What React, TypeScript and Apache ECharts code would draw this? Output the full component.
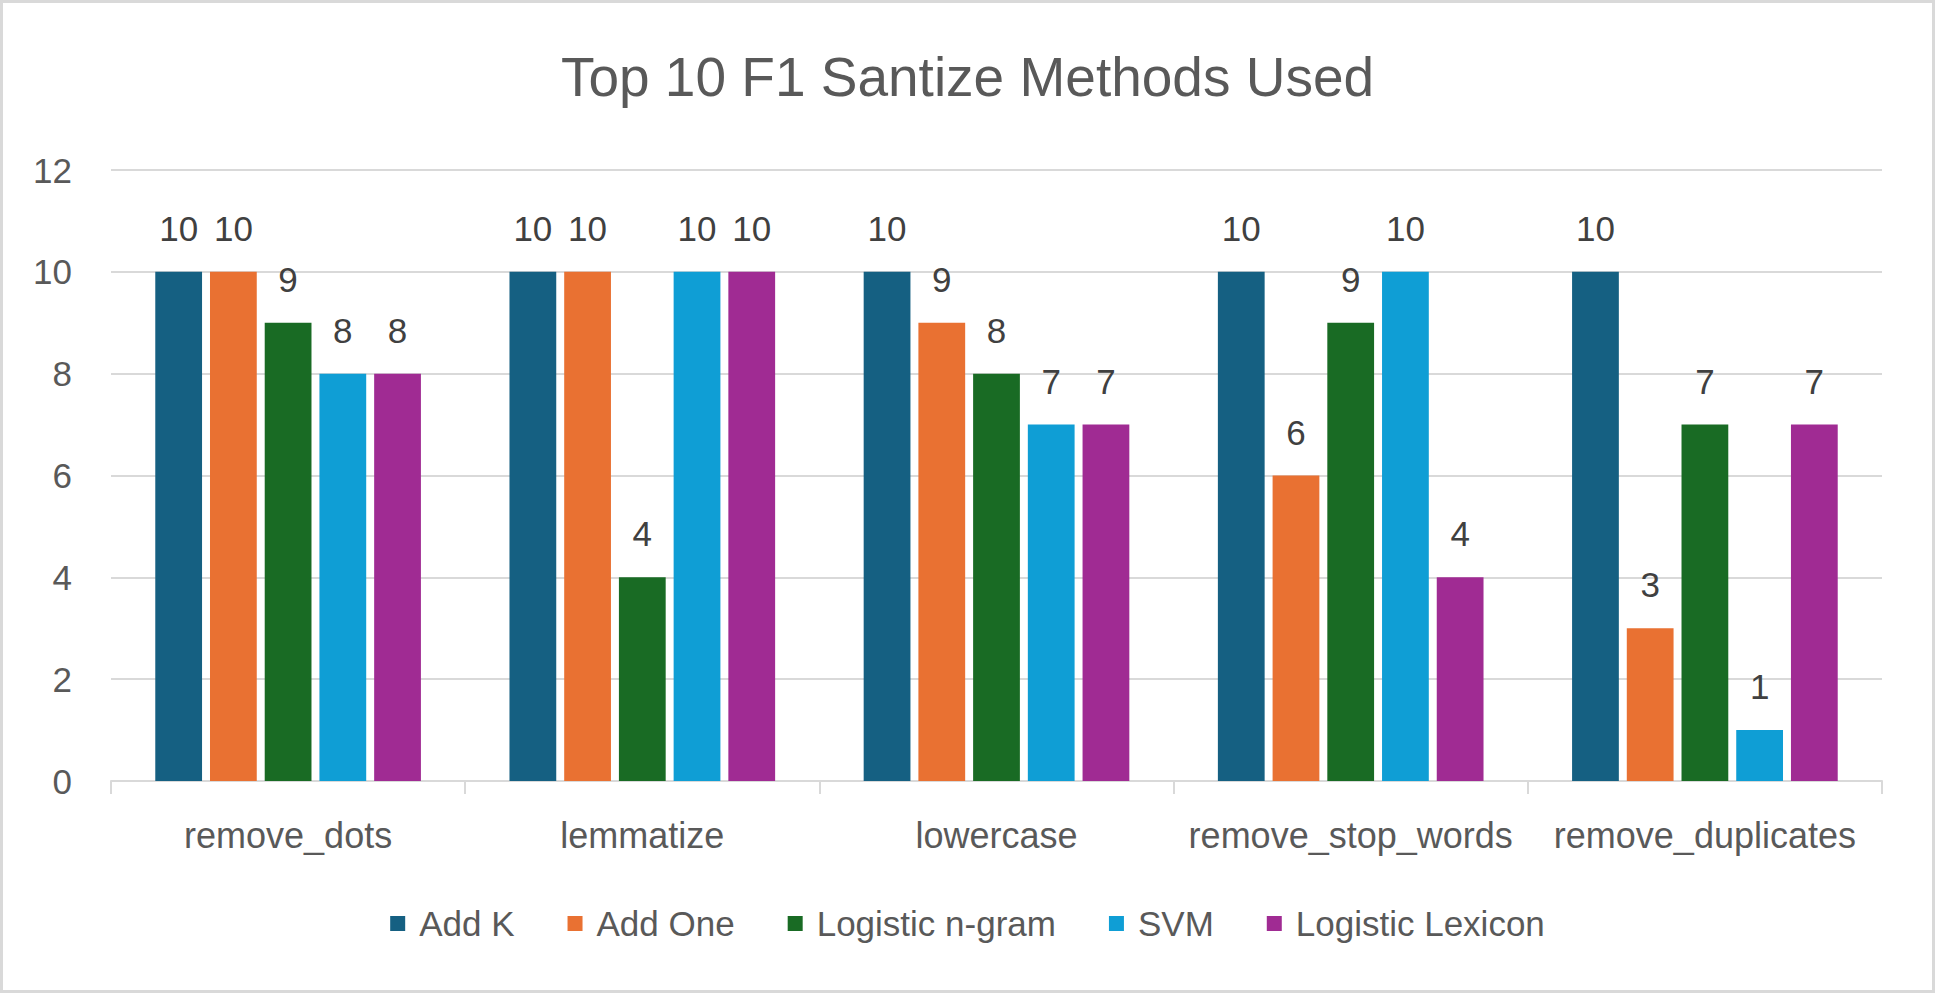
import React, { useEffect, useRef } from "react";
import * as echarts from "echarts";

const categories = ["remove_dots", "lemmatize", "lowercase", "remove_stop_words", "remove_duplicates"];
const seriesNames = ["Add K", "Add One", "Logistic n-gram", "SVM", "Logistic Lexicon"];
const addK = [10, 10, 10, 10, 10];
const addOne = [10, 10, 9, 6, 3];
const logisticNgram = [9, 4, 8, 9, 7];
const svm = [8, 10, 7, 10, 1];
const logisticLexicon = [8, 10, 7, 4, 7];
const yTicks = { min: 0, max: 12, interval: 2 };
const colors = ["#156082", "#E97132", "#196B24", "#0F9ED5", "#A02B93"];
const titleText = "Top 10 F1 Santize Methods Used";

const FONT = "'Liberation Sans', Arial, sans-serif";

export default function App() {
  const ref = useRef<HTMLDivElement>(null);
  useEffect(() => {
    document.body.style.margin = "0";
    const chart = echarts.init(ref.current!, null, { renderer: "svg" });
    const values = [addK, addOne, logisticNgram, svm, logisticLexicon];
    chart.setOption({
      animation: false,
      backgroundColor: "#ffffff",
      color: colors,
      title: {
        text: titleText,
        left: "center",
        top: 44,
        textStyle: { fontFamily: FONT, fontSize: 55, fontWeight: "normal", color: "#595959" },
      },
      legend: {
        data: seriesNames,
        left: "center",
        top: 901,
        icon: "rect",
        itemWidth: 15,
        itemHeight: 15,
        itemGap: 53,
        textStyle: { fontFamily: FONT, fontSize: 35, color: "#595959", padding: [0, 0, 0, 9] },
      },
      grid: { left: 111, right: 53, top: 170, bottom: 212 },
      xAxis: {
        type: "category",
        data: categories,
        axisLine: { lineStyle: { color: "#d9d9d9", width: 2 } },
        axisTick: { show: true, length: 13, lineStyle: { color: "#d9d9d9", width: 2 } },
        axisLabel: { interval: 0, fontFamily: FONT, fontSize: 36, color: "#595959", margin: 36 },
      },
      yAxis: {
        type: "value",
        min: yTicks.min,
        max: yTicks.max,
        interval: yTicks.interval,
        axisLine: { show: false },
        axisTick: { show: false },
        splitLine: { lineStyle: { color: "#d9d9d9", width: 2 } },
        axisLabel: { fontFamily: FONT, fontSize: 35, color: "#595959", margin: 39 },
      },
      series: seriesNames.map((name, i) => ({
        name,
        type: "bar",
        data: values[i],
        barGap: "17%",
        barCategoryGap: "25%",
        label: {
          show: true,
          position: "top",
          distance: 26,
          fontFamily: FONT,
          fontSize: 35,
          color: "#404040",
        },
      })),
      graphic: [
        {
          type: "rect",
          shape: { x: 1.5, y: 1.5, width: 1932, height: 990 },
          style: { fill: "none", stroke: "#d9d9d9", lineWidth: 3 },
          silent: true,
        },
      ],
    });
    return () => chart.dispose();
  }, []);
  return <div ref={ref} style={{ width: 1935, height: 993 }} />;
}
